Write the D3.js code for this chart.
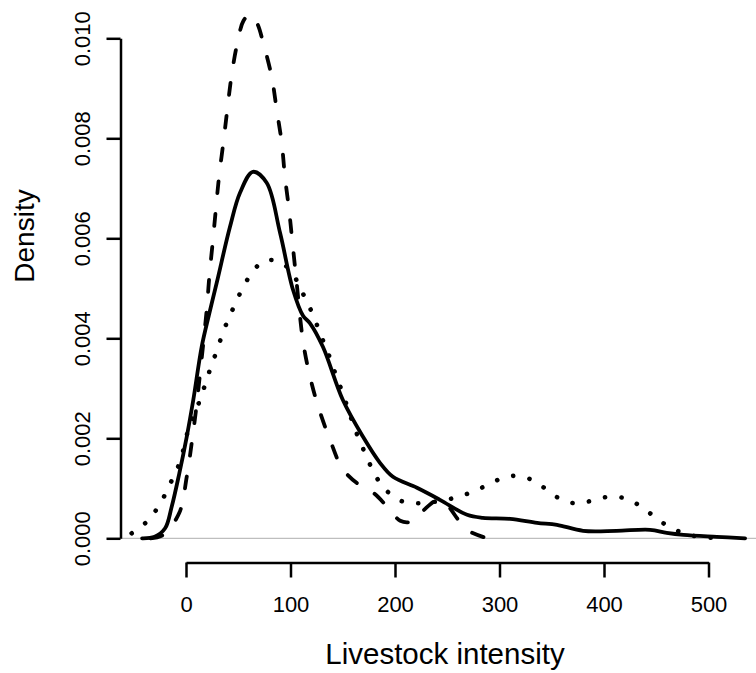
<!DOCTYPE html>
<html><head><meta charset="utf-8">
<script src="https://cdn.jsdelivr.net/npm/d3@7"></script>
<style>body{margin:0;background:#fff}svg{display:block}text{font-family:"Liberation Sans",Arial,sans-serif;fill:#000}</style>
</head><body>
<script>
const xTicks = [0, 100, 200, 300, 400, 500];
const yTicks = [0, 0.002, 0.004, 0.006, 0.008, 0.010];
const yTickLabels = ["0.000", "0.002", "0.004", "0.006", "0.008", "0.010"];
const xLabel = "Livestock intensity";
const yLabel = "Density";

const solidX = [-42,-30,-20,-13.7,-6.4,0.7,7,15,22,29.4,42.1,51.7,64,77.2,90,102.4,112,118.7,131,150,169.4,185.6,198,221,243,269,284,310,336,355,380,412,444,460,476,508,535];
const solidY = [0,0.00003,0.0002,0.00063,0.0013,0.00203,0.00277,0.00383,0.00447,0.00511,0.00623,0.00691,0.00733,0.00711,0.00611,0.00497,0.00445,0.0043,0.00383,0.00277,0.00203,0.00151,0.00123,0.00101,0.00077,0.00047,0.00041,0.00039,0.00031,0.00027,0.00015,0.00015,0.00017,0.00011,0.00007,0.00003,0];

const dashX = [-34,-21.7,-6.4,0.7,5.5,9.6,14.5,19.8,22.3,25.5,28.7,31.6,35.7,39.5,43.7,49.1,55,61.2,68,74,82,86.8,91.6,94.7,98.6,101.9,105.3,112.2,118.7,126.6,137.8,150.5,169.7,179.2,195.2,205,215,225.6,243,262,268.6,288];
const dashY = [0,0.00007,0.00051,0.00123,0.00191,0.00257,0.0035,0.00457,0.00523,0.00591,0.00661,0.00723,0.00791,0.00857,0.00927,0.0099,0.01035,0.01048,0.0103,0.0099,0.00923,0.00857,0.00791,0.00723,0.00657,0.00591,0.00523,0.00391,0.00323,0.00263,0.00197,0.00137,0.00101,0.00091,0.00057,0.00035,0.00033,0.00053,0.00077,0.00033,0.00017,0];

const dotX = [-52,-37.6,-27.5,-19.4,-12.7,-5.7,2.2,8.6,14.1,19.1,24.2,30,35.1,41.1,47.8,54.8,63.2,74.6,90.6,102.7,109.8,117,123.4,129.2,135.2,141.6,150,156.9,162.7,168.7,175.1,182.5,192,205.5,221.3,237.3,253.3,269.2,283.9,298.9,314.2,329.9,343.5,357,372.2,388.2,404.1,420.1,434.4,447.2,460.6,475.3,491.2,508];
const dotY = [0.0001,0.00033,0.0006,0.0009,0.0012,0.00153,0.00217,0.00251,0.00281,0.00313,0.00345,0.00378,0.0041,0.00441,0.00472,0.00503,0.00531,0.00555,0.00552,0.00527,0.00498,0.00468,0.00437,0.00405,0.00375,0.00337,0.0029,0.00247,0.00213,0.00183,0.00152,0.00121,0.00095,0.00075,0.0007,0.00073,0.00079,0.00089,0.00102,0.00117,0.00125,0.00118,0.001,0.0008,0.0007,0.00075,0.00083,0.0008,0.00065,0.00045,0.00025,0.00011,0.00003,0.00001];

const W = 756, H = 673;
const svg = d3.select("body").append("svg").attr("width", W).attr("height", H);
const x = d3.scaleLinear().domain([0, 500]).range([186, 708.5]);
const y = d3.scaleLinear().domain([0, 0.01]).range([538.3, 38.3]);

// gray zero line
svg.append("line").attr("x1", 121).attr("x2", W).attr("y1", y(0)).attr("y2", y(0))
  .attr("stroke", "#bebebe").attr("stroke-width", 1.2);

const line = d3.line().x(d => x(d[0])).y(d => y(d[1])).curve(d3.curveCatmullRom.alpha(0.5));
function series(xs, ys){ return xs.map((v,i)=>[v, ys[i]]); }

svg.append("path").attr("d", line(series(solidX, solidY))).attr("fill","none")
  .attr("stroke","#000").attr("stroke-width",3.8).attr("stroke-linecap","round").attr("stroke-linejoin","round");
svg.append("path").attr("d", line(series(dashX, dashY))).attr("fill","none")
  .attr("stroke","#000").attr("stroke-width",3.8).attr("stroke-linecap","round")
  .attr("stroke-dasharray","12 21");
svg.append("path").attr("d", line(series(dotX, dotY))).attr("fill","none")
  .attr("stroke","#000").attr("stroke-width",4.6).attr("stroke-linecap","round")
  .attr("stroke-dasharray","0.1 16.5");

// x axis
const xAxis = d3.axisBottom(x).tickValues(xTicks).tickSize(15).tickSizeOuter(0).tickPadding(20);
const gx = svg.append("g").attr("transform", "translate(0,562.5)").call(xAxis);
gx.select(".domain").attr("stroke-width", 2.5);
gx.selectAll(".tick line").attr("stroke-width", 2.5);
gx.selectAll(".tick text").attr("font-size", 22).attr("dy", null).attr("y", 49)
  .style("font-family", '"Liberation Sans",Arial,sans-serif');

// y axis
const yAxis = d3.axisLeft(y).tickValues(yTicks).tickFormat((d,i)=>yTickLabels[i]).tickSize(14).tickSizeOuter(0);
const gy = svg.append("g").attr("transform", "translate(120.5,0)").call(yAxis);
gy.select(".domain").attr("stroke-width", 2.5);
gy.selectAll(".tick line").attr("stroke-width", 2.5);
gy.selectAll(".tick text").attr("font-size", 22).attr("x", null).attr("dy", null)
  .attr("text-anchor","middle").attr("transform","translate(-30.5,0) rotate(-90)")
  .style("font-family", '"Liberation Sans",Arial,sans-serif');
gx.attr("font-family", null); gy.attr("font-family", null);

svg.append("text").attr("x", 445).attr("y", 664).attr("text-anchor","middle")
  .attr("font-size", 29.5).text(xLabel);
svg.append("text").attr("transform","translate(34,236) rotate(-90)").attr("text-anchor","middle")
  .attr("font-size", 28).text(yLabel);
</script>
</body></html>
